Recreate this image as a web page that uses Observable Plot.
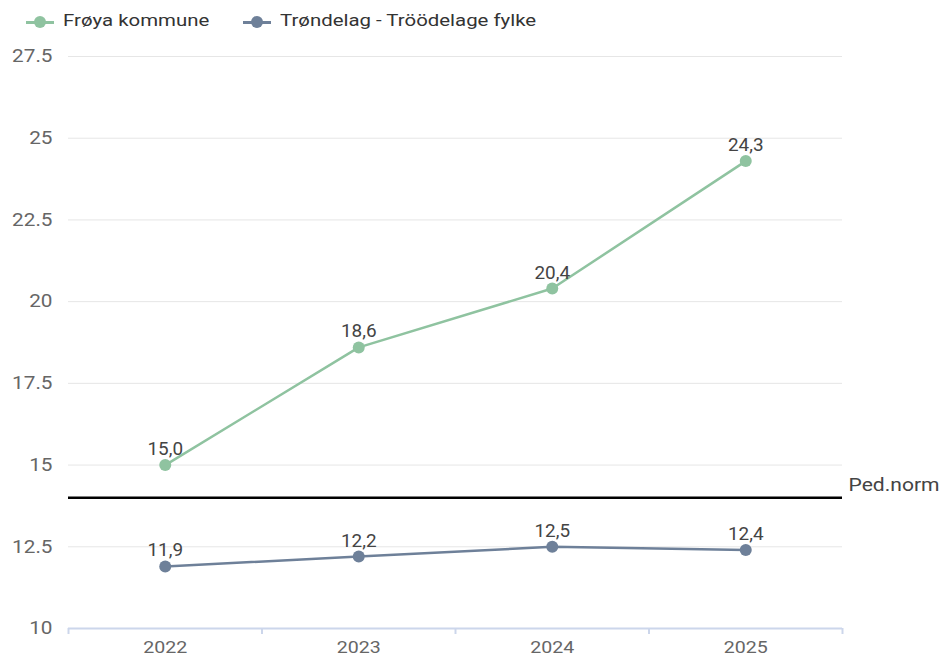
<!DOCTYPE html>
<html>
<head>
<meta charset="utf-8">
<script src="https://cdn.jsdelivr.net/npm/d3@7"></script>
<script src="https://cdn.jsdelivr.net/npm/@observablehq/plot@0.6"></script>
<style>
  body { margin: 0; background: #fff; font-family: Roboto, "Noto Sans", sans-serif; }
  #legend { height: 40px; position: relative; font-size: 17px; color: #333; }
  .item { position: absolute; top: 11px; display: flex; align-items: center; }
  .sym { position: relative; width: 28px; height: 22px; }
  .sym .ln { position: absolute; left: 0; right: 0; top: 10px; height: 3px; }
  .sym .dt { position: absolute; left: 8px; top: 5px; width: 12px; height: 12px; border-radius: 50%; }
  .lab { position: absolute; white-space: nowrap; transform: scaleX(1.2); transform-origin: left center; }
</style>
</head>
<body>
<div id="legend"></div>
<div id="chart"></div>
<script>
const years = [2022, 2023, 2024, 2025];
const froya = [15.0, 18.6, 20.4, 24.3];
const trondelag = [11.9, 12.2, 12.5, 12.4];
const seriesNames = ["Frøya kommune", "Trøndelag - Tröödelage fylke"];
const seriesColors = ["#8fc3a0", "#6e8099"];
const yTicks = [10, 12.5, 15, 17.5, 20, 22.5, 25, 27.5];
const pedNorm = 14;
const pedLabel = "Ped.norm";
const bandEdges = [2021.5, 2022.5, 2023.5, 2024.5, 2025.5];

// legend
const legend = document.getElementById("legend");
const symLefts = [26, 243];
const labLefts = [63, 280];
seriesNames.forEach((n, i) => {
  const it = document.createElement("div");
  it.className = "item";
  it.style.left = symLefts[i] + "px";
  it.innerHTML = `<span class="sym"><span class="ln" style="background:${seriesColors[i]}"></span><span class="dt" style="background:${seriesColors[i]}"></span></span>`;
  legend.appendChild(it);
  const lb = document.createElement("div");
  lb.className = "lab";
  lb.style.left = labLefts[i] + "px";
  lb.style.top = "10px";
  lb.textContent = n;
  legend.appendChild(lb);
});

const data = [
  ...years.map((y, i) => ({year: y, value: froya[i], s: seriesNames[0]})),
  ...years.map((y, i) => ({year: y, value: trondelag[i], s: seriesNames[1]}))
];
const fmt = v => v.toFixed(1).replace(".", ",");

const plot = Plot.plot({
  width: 944,
  height: 617,
  marginLeft: 68,
  marginRight: 102,
  marginTop: 16,
  marginBottom: 29,
  style: {fontFamily: "Roboto, sans-serif", background: "#fff"},
  x: {type: "linear", domain: [2021.5, 2025.5], axis: null},
  y: {type: "linear", domain: [10, 27.5], axis: null},
  color: {domain: seriesNames, range: seriesColors},
  marks: [
    Plot.ruleY(yTicks.filter(t => t > 10), {stroke: "#e6e6e6", strokeWidth: 1}),
    Plot.text(yTicks, {x: () => 2021.5, y: d => d, text: d => String(d), textAnchor: "end", dx: -16, fontSize: 18, fill: "#666", className: "ylab"}),
    Plot.ruleY([10], {stroke: "#ccd6eb", strokeWidth: 2}),
    Plot.ruleX(bandEdges, {x: d => d, y1: () => 10, y2: () => 10, insetBottom: -6, stroke: "#ccd6eb", strokeWidth: 2}),
    Plot.text(years, {x: d => d, y: () => 10, text: d => String(d), dy: 19.5, fontSize: 17, fill: "#666", className: "xlab"}),
    Plot.ruleY([pedNorm], {stroke: "#000", strokeWidth: 2.5}),
    Plot.text([pedNorm], {x: () => 2025.5, y: d => d, text: () => pedLabel, textAnchor: "start", dx: 6, dy: -13, fontSize: 18, fill: "#444", className: "plab"}),
    Plot.line(data, {x: "year", y: "value", z: "s", stroke: "s", strokeWidth: 2.5}),
    Plot.dot(data, {x: "year", y: "value", fill: "s", r: 6}),
    Plot.text(data, {x: "year", y: "value", text: d => fmt(d.value), lineAnchor: "bottom", dy: -10, fontSize: 17.5, fill: "#444", className: "dlab"})
  ]
});
document.getElementById("chart").appendChild(plot);

// the reference text is drawn slightly wider than the font's natural width
function stretch(sel, k) {
  d3.select(plot).selectAll(sel).each(function() {
    const len = this.getComputedTextLength();
    if (len > 0) {
      this.setAttribute("textLength", (len * k).toFixed(1));
      this.setAttribute("lengthAdjust", "spacingAndGlyphs");
    }
  });
}
stretch(".ylab text", 1.15);
stretch(".xlab text", 1.15);
stretch(".plab text", 1.17);
stretch(".dlab text", 1.08);
</script>
</body>
</html>
